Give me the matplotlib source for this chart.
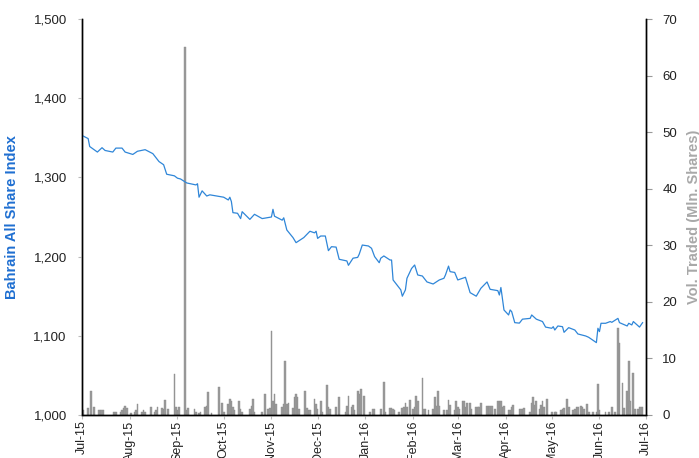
import matplotlib
matplotlib.use("Agg")
import matplotlib.pyplot as plt
import matplotlib.dates as mdates
from matplotlib.ticker import FuncFormatter
import pandas as pd

# Bahrain All Share Index (daily close)
index_dates = [
    "2015-07-01", "2015-07-05", "2015-07-06", "2015-07-11", "2015-07-14", "2015-07-16",
    "2015-07-21", "2015-07-23", "2015-07-27", "2015-07-29", "2015-08-03", "2015-08-06",
    "2015-08-11", "2015-08-16", "2015-08-20", "2015-08-23", "2015-08-25", "2015-08-30",
    "2015-09-01", "2015-09-03", "2015-09-07", "2015-09-13", "2015-09-14", "2015-09-15",
    "2015-09-17", "2015-09-20", "2015-09-22", "2015-10-01", "2015-10-04", "2015-10-05",
    "2015-10-06", "2015-10-07", "2015-10-10", "2015-10-12", "2015-10-13", "2015-10-18",
    "2015-10-21", "2015-10-26", "2015-11-01", "2015-11-02", "2015-11-03", "2015-11-08",
    "2015-11-09", "2015-11-11", "2015-11-15", "2015-11-17", "2015-11-22", "2015-11-26",
    "2015-11-29", "2015-11-30", "2015-12-01", "2015-12-03", "2015-12-06", "2015-12-08",
    "2015-12-10", "2015-12-13", "2015-12-15", "2015-12-20", "2015-12-21", "2015-12-24",
    "2015-12-27", "2015-12-28", "2015-12-30", "2016-01-03", "2016-01-05", "2016-01-07",
    "2016-01-10", "2016-01-11", "2016-01-13", "2016-01-17", "2016-01-18", "2016-01-19",
    "2016-01-24", "2016-01-25", "2016-01-27", "2016-01-28", "2016-01-31", "2016-02-02",
    "2016-02-04", "2016-02-07", "2016-02-10", "2016-02-14", "2016-02-16", "2016-02-18",
    "2016-02-21", "2016-02-22", "2016-02-24", "2016-02-25", "2016-02-28", "2016-03-01",
    "2016-03-06", "2016-03-09", "2016-03-13", "2016-03-16", "2016-03-20", "2016-03-22",
    "2016-03-27", "2016-03-28", "2016-03-29", "2016-03-31", "2016-04-03", "2016-04-04",
    "2016-04-05", "2016-04-07", "2016-04-10", "2016-04-12", "2016-04-17", "2016-04-18",
    "2016-04-21", "2016-04-25", "2016-04-27", "2016-05-01", "2016-05-02", "2016-05-03",
    "2016-05-05", "2016-05-08", "2016-05-09", "2016-05-12", "2016-05-16", "2016-05-18",
    "2016-05-23", "2016-05-25", "2016-05-30", "2016-05-31", "2016-06-01", "2016-06-02",
    "2016-06-05", "2016-06-08", "2016-06-09", "2016-06-13", "2016-06-14", "2016-06-19",
    "2016-06-20", "2016-06-22", "2016-06-23", "2016-06-27", "2016-06-29",
]
index_values = [
    1353, 1349, 1339, 1332, 1337.5, 1334,
    1332, 1337, 1337, 1332, 1329, 1333,
    1335, 1330, 1320, 1316, 1304, 1302,
    1299, 1298, 1293, 1290.5, 1292, 1275,
    1283, 1276.5, 1278, 1275, 1271.5, 1275,
    1269.5, 1255.5, 1254.7, 1248, 1256.7, 1247,
    1253.4, 1248, 1250, 1259.7, 1251, 1246,
    1249, 1233.6, 1224, 1217.6, 1224, 1232,
    1230, 1232, 1223, 1226, 1226, 1207.5,
    1212.5, 1212, 1196.6, 1194.5, 1189, 1198,
    1199, 1203, 1214.6, 1213.4, 1210.5, 1200,
    1192.3, 1198, 1200.8, 1195.7, 1195.7, 1170.5,
    1158, 1150, 1158, 1172.6, 1185, 1189.4,
    1176.8, 1175.5, 1168, 1165.4, 1168, 1170.5,
    1172.6, 1176.8, 1188, 1181, 1180, 1170.5,
    1173.9, 1154.5, 1150, 1160, 1168, 1158.7,
    1157, 1151.5, 1161, 1132.6, 1126.3, 1132.6,
    1130.5, 1116.6, 1116, 1121, 1122, 1126.3,
    1121, 1118, 1111, 1109.5, 1111.5, 1107.3,
    1112.4, 1111.5, 1104.4, 1110.3, 1107.3, 1102.3,
    1099.8, 1098.1, 1091.4, 1109.5, 1105.3, 1115.8,
    1115.8, 1118, 1117, 1122, 1116.6, 1112.4,
    1115.8, 1113.7, 1118, 1111, 1116.6,
]

# Volume traded, million shares
vol_dates = [
    "2015-07-02", "2015-07-05", "2015-07-07", "2015-07-09", "2015-07-12", "2015-07-13",
    "2015-07-14", "2015-07-15", "2015-07-22", "2015-07-23", "2015-07-26", "2015-07-27",
    "2015-07-28", "2015-07-29", "2015-07-30", "2015-08-02", "2015-08-04", "2015-08-05",
    "2015-08-06", "2015-08-09", "2015-08-10", "2015-08-11", "2015-08-15", "2015-08-17",
    "2015-08-18", "2015-08-19", "2015-08-22", "2015-08-23", "2015-08-24", "2015-08-26",
    "2015-08-30", "2015-08-31", "2015-09-01", "2015-09-02", "2015-09-06", "2015-09-07",
    "2015-09-08", "2015-09-12", "2015-09-13", "2015-09-15", "2015-09-16", "2015-09-19",
    "2015-09-20", "2015-09-21", "2015-09-23", "2015-09-28", "2015-09-30", "2015-10-01",
    "2015-10-04", "2015-10-05", "2015-10-06", "2015-10-07", "2015-10-08", "2015-10-11",
    "2015-10-12", "2015-10-13", "2015-10-18", "2015-10-19", "2015-10-20", "2015-10-21",
    "2015-10-26", "2015-10-28", "2015-10-30", "2015-10-31", "2015-11-01", "2015-11-02",
    "2015-11-03", "2015-11-04", "2015-11-08", "2015-11-09", "2015-11-10", "2015-11-11",
    "2015-11-12", "2015-11-15", "2015-11-16", "2015-11-17", "2015-11-18", "2015-11-19",
    "2015-11-23", "2015-11-24", "2015-11-25", "2015-11-26", "2015-11-29", "2015-11-30",
    "2015-12-01", "2015-12-03", "2015-12-04", "2015-12-07", "2015-12-08", "2015-12-09",
    "2015-12-13", "2015-12-15", "2015-12-19", "2015-12-20", "2015-12-21", "2015-12-23",
    "2015-12-24", "2015-12-25", "2015-12-27", "2015-12-28", "2015-12-29", "2015-12-31",
    "2016-01-04", "2016-01-06", "2016-01-07", "2016-01-11", "2016-01-13", "2016-01-14",
    "2016-01-17", "2016-01-18", "2016-01-19", "2016-01-20", "2016-01-23", "2016-01-25",
    "2016-01-26", "2016-01-27", "2016-01-28", "2016-01-30", "2016-02-01", "2016-02-02",
    "2016-02-03", "2016-02-04", "2016-02-07", "2016-02-08", "2016-02-09", "2016-02-11",
    "2016-02-14", "2016-02-15", "2016-02-16", "2016-02-17", "2016-02-18", "2016-02-21",
    "2016-02-23", "2016-02-24", "2016-02-25", "2016-02-28", "2016-02-29", "2016-03-01",
    "2016-03-02", "2016-03-04", "2016-03-05", "2016-03-06", "2016-03-07", "2016-03-09",
    "2016-03-10", "2016-03-13", "2016-03-14", "2016-03-15", "2016-03-16", "2016-03-20",
    "2016-03-21", "2016-03-22", "2016-03-23", "2016-03-25", "2016-03-27", "2016-03-28",
    "2016-03-29", "2016-03-30", "2016-03-31", "2016-04-03", "2016-04-04", "2016-04-05",
    "2016-04-06", "2016-04-10", "2016-04-11", "2016-04-12", "2016-04-13", "2016-04-17",
    "2016-04-18", "2016-04-19", "2016-04-20", "2016-04-21", "2016-04-23", "2016-04-24",
    "2016-04-25", "2016-04-26", "2016-04-28", "2016-05-01", "2016-05-03", "2016-05-04",
    "2016-05-07", "2016-05-08", "2016-05-09", "2016-05-11", "2016-05-12", "2016-05-15",
    "2016-05-16", "2016-05-17", "2016-05-18", "2016-05-20", "2016-05-21", "2016-05-22",
    "2016-05-24", "2016-05-25", "2016-05-28", "2016-05-30", "2016-05-31", "2016-06-01",
    "2016-06-05", "2016-06-07", "2016-06-09", "2016-06-11", "2016-06-13", "2016-06-14",
    "2016-06-16", "2016-06-17", "2016-06-19", "2016-06-20", "2016-06-21", "2016-06-23",
    "2016-06-24", "2016-06-26", "2016-06-27", "2016-06-28", "2016-06-29",
]
vol_values = [
    0.9, 1.2, 4.2, 1.4, 0.8, 0.9,
    0.9, 0.9, 0.6, 0.5, 0.5, 0.9,
    1.2, 1.6, 1.3, 0.3, 0.6, 0.8,
    1.9, 0.6, 0.8, 0.5, 1.4, 0.6,
    0.8, 1.4, 1.2, 1.1, 2.6, 1.1,
    7.2, 1.5, 0.8, 1.4, 65.0, 0.8,
    1.2, 1.1, 0.6, 0.4, 0.5, 1.5,
    1.6, 4.0, 0.4, 4.9, 2.1, 0.6,
    1.9, 2.8, 2.5, 1.5, 0.9, 2.5,
    1.1, 0.6, 1.1, 1.6, 2.9, 0.6,
    0.6, 3.7, 1.1, 1.2, 14.9, 2.5,
    3.7, 1.9, 1.4, 1.9, 9.5, 1.9,
    2.1, 1.2, 3.2, 3.7, 3.1, 1.1,
    4.2, 1.2, 0.9, 0.9, 2.9, 1.9,
    1.1, 2.5, 0.6, 5.3, 1.4, 1.1,
    1.5, 3.1, 0.6, 1.6, 3.4, 1.4,
    1.8, 0.9, 4.2, 3.7, 4.6, 3.3,
    0.6, 1.1, 1.1, 1.1, 5.9, 0.6,
    1.2, 1.2, 1.1, 0.9, 0.5, 1.2,
    1.4, 2.2, 1.5, 2.6, 1.1, 1.4,
    3.4, 2.5, 6.5, 1.1, 1.1, 0.9,
    1.1, 3.1, 1.6, 4.2, 1.6, 0.8,
    0.9, 2.6, 1.8, 0.8, 2.4, 1.5,
    1.1, 2.4, 2.5, 1.5, 2.2, 2.2,
    1.1, 1.4, 1.4, 1.4, 2.1, 1.6,
    1.6, 1.6, 1.6, 1.1, 2.5, 2.5,
    2.5, 1.4, 1.6, 0.8, 0.9, 1.4,
    1.8, 1.1, 1.1, 1.1, 1.2, 0.6,
    2.2, 3.1, 1.8, 2.5, 1.1, 1.8,
    2.5, 1.5, 2.8, 0.6, 0.6, 0.5,
    0.8, 1.1, 1.2, 2.9, 1.4, 0.8,
    1.1, 1.4, 1.5, 1.6, 1.4, 1.1,
    1.9, 0.5, 0.5, 0.5, 5.5, 0.8,
    0.5, 0.6, 1.5, 0.5, 15.3, 12.8,
    5.6, 1.2, 4.3, 9.5, 2.5, 7.5,
    1.1, 1.1, 1.4, 1.5, 1.5,
]

LINE_BLUE = "#2f86d8"
LABEL_BLUE = "#1f6fd1"
BAR_GREY = "#9a9a9a"
LABEL_GREY = "#a8a8a8"

plt.rcParams["font.family"] = ["Liberation Sans", "DejaVu Sans"]

fig = plt.figure(figsize=(6.99, 4.58), dpi=100)
ax = fig.add_axes([0.1173, 0.0939, 0.8064, 0.8646])
ax2 = ax.twinx()

vd = pd.to_datetime(vol_dates)
ax2.bar(vd, vol_values, width=1.1, color=BAR_GREY, edgecolor="#8c8c8c", linewidth=0.3)
ax.plot(pd.to_datetime(index_dates), index_values, color=LINE_BLUE, lw=0.9)

# line above bars
ax.set_zorder(ax2.get_zorder() + 1)
ax.patch.set_visible(False)

ax.set_xlim(pd.Timestamp("2015-07-01"), pd.Timestamp("2016-07-01"))
ax.set_ylim(1000, 1500)
ax2.set_ylim(0, 70)
ax.set_yticks(range(1000, 1501, 100))
ax2.set_yticks(range(0, 71, 10))
ax.yaxis.set_major_formatter(FuncFormatter(lambda v, _: f"{v:,.0f}"))

ax.xaxis.set_major_locator(mdates.MonthLocator())
ax.xaxis.set_major_formatter(mdates.DateFormatter("%b-%y"))
for lbl in ax.get_xticklabels():
    lbl.set_rotation(90)

for a in (ax, ax2):
    a.spines["top"].set_visible(False)
    for s in ("left", "right", "bottom"):
        a.spines[s].set_color("black")
        a.spines[s].set_linewidth(1.0)

ax.tick_params(axis="y", length=3, color="#bbbbbb", labelsize=9.5, labelcolor="#222222", pad=8)
ax.tick_params(axis="x", length=3, color="#bbbbbb", labelsize=9, labelcolor="#222222", pad=1)
ax2.tick_params(axis="y", length=4, color="#999999", labelsize=9.5, labelcolor="#222222", pad=8)

ax.set_ylabel("Bahrain All Share Index", color=LABEL_BLUE, fontsize=10.5, fontweight="bold", labelpad=10)
ax2.set_ylabel("Vol. Traded (Mln. Shares)", color=LABEL_GREY, fontsize=10.5, fontweight="bold", labelpad=7)

fig.savefig("out.png", dpi=100)
